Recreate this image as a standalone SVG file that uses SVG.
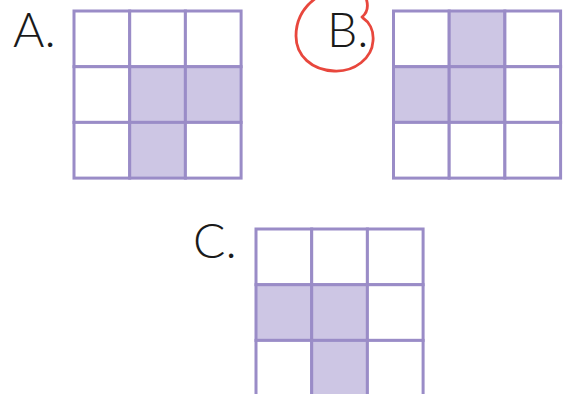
<svg xmlns="http://www.w3.org/2000/svg" width="574" height="394" viewBox="0 0 574 394">
<style>
.cell{fill:#ffffff;stroke:#9a8cc7;stroke-width:3}
.on{fill:#cdc6e4}
.lbl{font-family:Lato,"Liberation Sans",sans-serif;font-weight:300;font-size:48px;fill:#1a1a1a}
.mark{fill:none;stroke:#e8473d;stroke-width:2.8;stroke-linecap:round;stroke-linejoin:round}
</style>
<rect width="574" height="394" fill="#ffffff"/>
<g id="optionA">
<text class="lbl" x="13" y="47">A.</text>
<g transform="translate(74,11)">
<rect class="cell" x="0" y="0" width="55.7" height="55.7"/>
<rect class="cell" x="55.7" y="0" width="55.7" height="55.7"/>
<rect class="cell" x="111.4" y="0" width="55.7" height="55.7"/>
<rect class="cell" x="0" y="55.7" width="55.7" height="55.7"/>
<rect class="cell on" x="55.7" y="55.7" width="55.7" height="55.7"/>
<rect class="cell on" x="111.4" y="55.7" width="55.7" height="55.7"/>
<rect class="cell" x="0" y="111.4" width="55.7" height="55.7"/>
<rect class="cell on" x="55.7" y="111.4" width="55.7" height="55.7"/>
<rect class="cell" x="111.4" y="111.4" width="55.7" height="55.7"/>
</g>
</g>
<g id="optionB">
<path class="mark" d="M316,-2 C305,6 296,18 296,36 C296,56 312,70 334,71 C355,72 372,58 373,41 C374,30 369,22 363,18 L362,17 C367,13 369,7 366,-2"/>
<text class="lbl" x="327" y="47">B.</text>
<g transform="translate(393.5,11)">
<rect class="cell" x="0" y="0" width="55.7" height="55.7"/>
<rect class="cell on" x="55.7" y="0" width="55.7" height="55.7"/>
<rect class="cell" x="111.4" y="0" width="55.7" height="55.7"/>
<rect class="cell on" x="0" y="55.7" width="55.7" height="55.7"/>
<rect class="cell on" x="55.7" y="55.7" width="55.7" height="55.7"/>
<rect class="cell" x="111.4" y="55.7" width="55.7" height="55.7"/>
<rect class="cell" x="0" y="111.4" width="55.7" height="55.7"/>
<rect class="cell" x="55.7" y="111.4" width="55.7" height="55.7"/>
<rect class="cell" x="111.4" y="111.4" width="55.7" height="55.7"/>
</g>
</g>
<g id="optionC">
<text class="lbl" x="193" y="258">C.</text>
<g transform="translate(256,229)">
<rect class="cell" x="0" y="0" width="55.7" height="55.7"/>
<rect class="cell" x="55.7" y="0" width="55.7" height="55.7"/>
<rect class="cell" x="111.4" y="0" width="55.7" height="55.7"/>
<rect class="cell on" x="0" y="55.7" width="55.7" height="55.7"/>
<rect class="cell on" x="55.7" y="55.7" width="55.7" height="55.7"/>
<rect class="cell" x="111.4" y="55.7" width="55.7" height="55.7"/>
<rect class="cell" x="0" y="111.4" width="55.7" height="55.7"/>
<rect class="cell on" x="55.7" y="111.4" width="55.7" height="55.7"/>
<rect class="cell" x="111.4" y="111.4" width="55.7" height="55.7"/>
</g>
</g>
</svg>
